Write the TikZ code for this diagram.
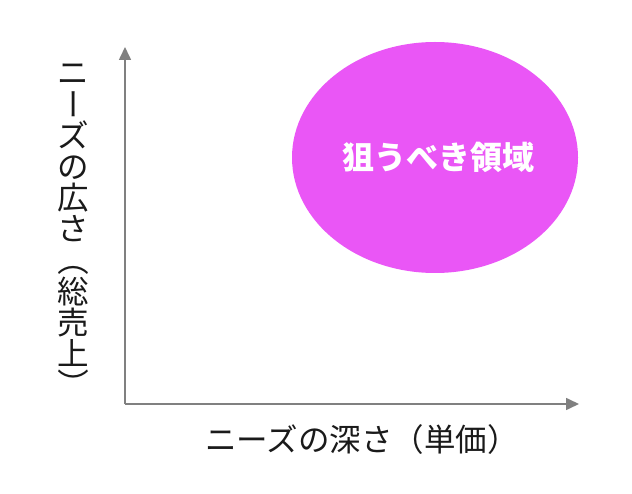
\documentclass[tikz,border=0pt]{standalone}
\usepackage{fontspec}
\newfontfamily\jp{Noto Sans CJK JP}
\usetikzlibrary{arrows.meta}
\definecolor{axisgray}{HTML}{808080}
\definecolor{target}{HTML}{EA56F6}
\definecolor{labelink}{HTML}{1A1A1A}
\tikzset{
  axis/.style={draw=axisgray, line width=1.6pt, -{Triangle[length=13pt,width=12pt]}},
  vchar/.style={font=\jp\fontsize{31.5}{31.5}\selectfont, text=labelink, inner sep=0pt,
    text height=27.7pt, text depth=3.8pt, text width=31.5pt, align=center},
  hlabel/.style={font=\jp\fontsize{31.5}{31.5}\selectfont, text=labelink, inner sep=0pt},
  zone/.style={fill=target, draw=none},
  zonelabel/.style={font=\jp\bfseries\fontsize{32}{32}\selectfont, text=white, inner sep=0pt}
}
\begin{document}
\begin{tikzpicture}[x=1pt,y=-1pt]
\useasboundingbox[fill=white] (0,0) rectangle (632,494);
% target region
\fill[zone] (435,157.5) ellipse [x radius=143, y radius=115.5];
\node[zonelabel] (zl) at (438,157) {狙うべき領域};
% axes
\coordinate (O) at (125,404);
\coordinate (ytop) at (125,47);
\coordinate (xend) at (579,404);
\draw[axis] (O) -- (ytop);
\draw[axis] (O) -- (xend);
% x label
\node[hlabel] (xl) at (362,440) {ニーズの深さ（単価）};
% y label (vertical)
\foreach \c/\r [count=\i] in {ニ/0,ー/-90,ズ/0,の/0,広/0,さ/0,（/-90,総/0,売/0,上/0,）/-90}
  \node[vchar, rotate=\r] (v\i) at (73,{41.5+31.2*\i}) {\c};
\end{tikzpicture}
\end{document}
